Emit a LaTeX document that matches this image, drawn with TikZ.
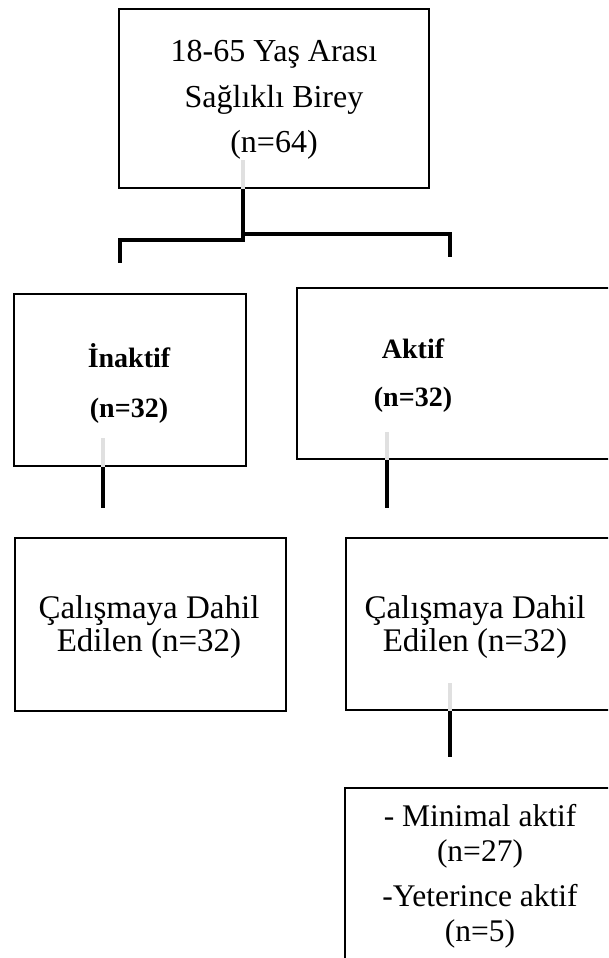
\documentclass[tikz,border=0pt]{standalone}
\usepackage{fontspec}
\setmainfont{Liberation Serif}
\begin{document}
\begin{tikzpicture}[x=1pt,y=-1pt,
  box/.style={draw=black, line width=2pt, rectangle, inner sep=0pt, anchor=north west},
  conn/.style={line width=4pt, draw=black},
  ghost/.style={line width=4.5pt, draw=black!12},
  reg/.style={inner sep=0pt, align=center},
  bld/.style={inner sep=0pt, align=center, font=\fontsize{28}{50}\selectfont\bfseries}]
\useasboundingbox (0,0) rectangle (608,958);
\clip (0,0) rectangle (608,958);
% boxes
\node[box, minimum width=310pt, minimum height=179pt] (b0) at (118,8) {};
\node[box, minimum width=232pt, minimum height=172pt] (b1) at (13,293) {};
\node[box, minimum width=344pt, minimum height=171pt] (b2) at (296,287) {};
\node[box, minimum width=271pt, minimum height=173pt] (b3) at (14,537) {};
\node[box, minimum width=290pt, minimum height=172pt] (b4) at (345,537) {};
\node[box, minimum width=290pt, minimum height=220pt] (b5) at (344,787) {};
% texts
\node[reg, font=\fontsize{32}{45.5}\selectfont] (t0) at (274,100) {18-65 Yaş Arası\\Sağlıklı Birey\\(n=64)};
\node[bld] (t1) at (129,383) {İnaktif\\(n=32)};
\node[bld, font=\fontsize{28}{48}\selectfont\bfseries] (t2) at (413,376) {Aktif\\(n=32)};
\node[reg, font=\fontsize{33}{33}\selectfont] (t3) at (149,627) {Çalışmaya Dahil\\Edilen (n=32)};
\node[reg, font=\fontsize{33}{33}\selectfont] (t4) at (475,627) {Çalışmaya Dahil\\Edilen (n=32)};
\node[reg, font=\fontsize{31.5}{35}\selectfont] (t5) at (480,876) {- Minimal aktif\\(n=27)\\[10pt]-Yeterince aktif\\(n=5)};
% connector points
\coordinate (g0) at (243,160);
\coordinate (c0) at (243,240);
\coordinate (cL) at (120,240);
\coordinate (dL) at (120,263);
\coordinate (cR) at (450,234);
\coordinate (dR) at (450,257);
\coordinate (g1) at (103,438);
\coordinate (d1) at (103,508);
\coordinate (g2) at (387,432);
\coordinate (d2) at (387,508);
\coordinate (g4) at (450,683);
\coordinate (d4) at (450,757);
% connectors
\draw[ghost] (g0) -- (g0 |- b0.south);
\draw[conn] (g0 |- b0.south) -- (c0) -- (cL) -- (dL);
\draw[conn] (c0 |- cR) -- (cR) -- (dR);
\draw[ghost] (g1) -- (g1 |- b1.south);
\draw[conn] (g1 |- b1.south) -- (d1);
\draw[ghost] (g2) -- (g2 |- b2.south);
\draw[conn] (g2 |- b2.south) -- (d2);
\draw[ghost] (g4) -- (g4 |- b4.south);
\draw[conn] (g4 |- b4.south) -- (d4);
\end{tikzpicture}
\end{document}
